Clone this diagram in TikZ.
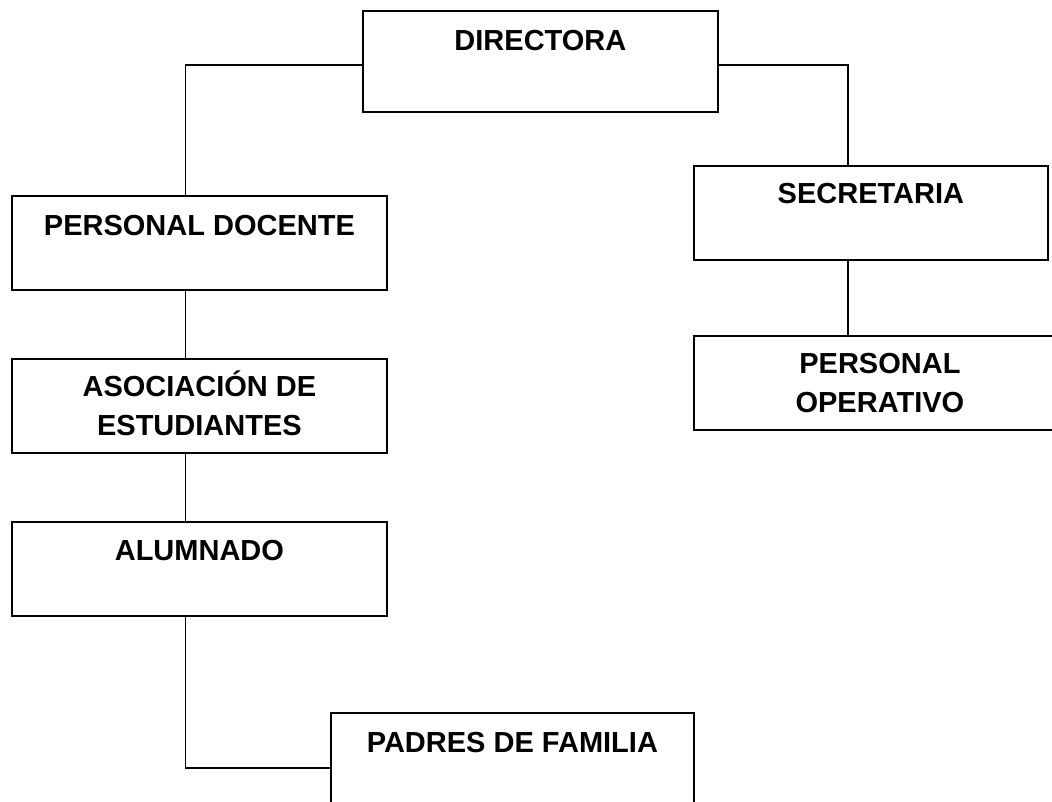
\documentclass[tikz,border=0pt]{standalone}
\usepackage{fontspec}
\setmainfont{Liberation Sans}
\usepackage{tikz}
\usetikzlibrary{positioning,calc}

\begin{document}
\begin{tikzpicture}[x=1pt,y=-1pt,
  caja/.style={draw,rectangle,line width=1.8pt,inner sep=0pt,anchor=north west},
  rotulo/.style={font=\fontsize{29}{38.5}\selectfont\bfseries,align=center,inner sep=0pt,anchor=base},
  enlace/.style={line width=1.3pt}]
  \useasboundingbox (0,0) rectangle (1052,801);
  \clip (0,0) rectangle (1052,801);
  % cajas
  \node[caja,minimum width=355pt,minimum height=101pt] (dir) at (362,10) {};
  \node[caja,minimum width=375pt,minimum height=94pt] (doc) at (11,195) {};
  \node[caja,minimum width=354pt,minimum height=94pt] (sec) at (693,165) {};
  \node[caja,minimum width=372pt,minimum height=94pt] (ope) at (693,335) {};
  \node[caja,minimum width=375pt,minimum height=94pt] (aso) at (11,358) {};
  \node[caja,minimum width=375pt,minimum height=94pt] (alu) at (11,521) {};
  \node[caja,minimum width=363pt,minimum height=110pt] (pad) at (330,712) {};
  % textos (en dos lineas la base es la de la ultima)
  \node[rotulo] (dirT) at ([yshift=-40pt]dir.north) {DIRECTORA};
  \node[rotulo] (docT) at ([yshift=-40pt]doc.north) {PERSONAL DOCENTE};
  \node[rotulo] (secT) at ([yshift=-38pt]sec.north) {SECRETARIA};
  \node[rotulo] (opeT) at ([yshift=-77pt]ope.north) {PERSONAL\\OPERATIVO};
  \node[rotulo] (asoT) at ([yshift=-77pt]aso.north) {ASOCIACIÓN DE\\ESTUDIANTES};
  \node[rotulo] (aluT) at ([yshift=-39pt]alu.north) {ALUMNADO};
  \node[rotulo] (padT) at ([yshift=-40pt]pad.north) {PADRES DE FAMILIA};
  % conexiones
  \draw[enlace] ([yshift=-3.5pt]dir.west) -| ([xshift=-14pt]doc.north);
  \draw[enlace] ([yshift=-3.5pt]dir.east) -| ([xshift=-23pt]sec.north);
  \draw[enlace] ([xshift=-23pt]sec.south) coordinate (s) -- (s |- ope.north);
  \draw[enlace] ([xshift=-14pt]doc.south) -- ([xshift=-14pt]aso.north);
  \draw[enlace] ([xshift=-14pt]aso.south) -- ([xshift=-14pt]alu.north);
  \draw[enlace] ([xshift=-14pt]alu.south) |- (pad.west);
\end{tikzpicture}
\end{document}
